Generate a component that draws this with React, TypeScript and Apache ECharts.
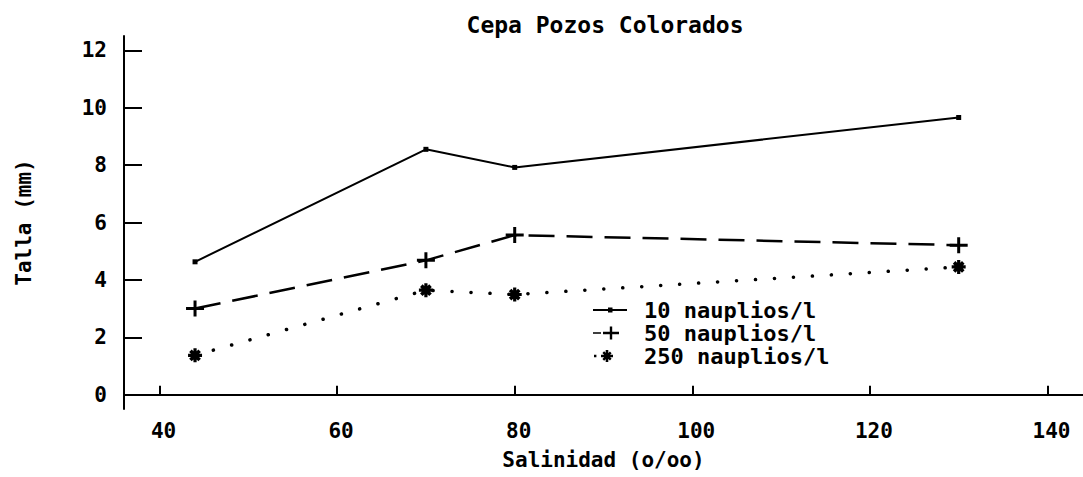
import React, { useEffect, useRef } from "react";
import * as echarts from "echarts";

const salinity = [44, 70, 80, 130];
const talla10 = [4.63, 8.55, 7.92, 9.66];
const talla50 = [3.0, 4.68, 5.56, 5.21];
const talla250 = [1.37, 3.64, 3.49, 4.45];
const xTicks = [40, 60, 80, 100, 120, 140];
const yTicks = [0, 2, 4, 6, 8, 10, 12];
const seriesNames = ["10 nauplios/l", "50 nauplios/l", "250 nauplios/l"];

const FONT = "DejaVu Sans Mono";

const plusPath =
  "path://M-1.5,-8 L1.5,-8 L1.5,-1.5 L9,-1.5 L9,1.5 L1.5,1.5 L1.5,8 L-1.5,8 L-1.5,1.5 L-9,1.5 L-9,-1.5 L-1.5,-1.5 Z";
const starPath =
  "path://M-7,-1.6 L7,-1.6 L7,1.6 L-7,1.6 Z M-1.6,-7 L1.6,-7 L1.6,7 L-1.6,7 Z " +
  "M-3.33,-5.87 L5.87,3.33 L3.33,5.87 L-5.87,-3.33 Z M-5.87,3.33 L3.33,-5.87 L5.87,-3.33 L-3.33,5.87 Z";

// legend icons drawn in a 34 x 14 box (tiny corner specks keep the box size)
const corners = " M0,0 L0.01,0 L0,0.01 Z M34,14 L33.99,14 L34,13.99 Z";
const icon10 = "path://M0,6 L34,6 L34,8 L0,8 Z M15,4.5 L19.5,4.5 L19.5,9.5 L15,9.5 Z" + corners;
const icon50 =
  "path://M0,6.2 L8,6.2 L8,7.8 L0,7.8 Z M10,5.8 L26,5.8 L26,8.2 L10,8.2 Z M16.8,0.5 L19.2,0.5 L19.2,13.5 L16.8,13.5 Z" +
  corners;
const icon250 =
  "path://M1,5.8 L3.4,5.8 L3.4,8.2 L1,8.2 Z " +
  "M8,5.7 L20,5.7 L20,8.3 L8,8.3 Z M12.7,1 L15.3,1 L15.3,13 L12.7,13 Z " +
  "M11.1,2.3 L18.6,9.8 L16.9,11.5 L9.4,4 Z M9.4,10 L16.9,2.5 L18.6,4.2 L11.1,11.7 Z" +
  corners;

export default function App() {
  const ref = useRef<HTMLDivElement>(null);
  useEffect(() => {
    if (!ref.current) return;
    const chart = echarts.init(ref.current, null, { renderer: "svg" });
    const pair = (ys: number[]) => salinity.map((x, i) => [x, ys[i]]);
    chart.setOption({
      animation: false,
      backgroundColor: "#ffffff",
      title: {
        text: "Cepa Pozos Colorados",
        left: 600,
        top: 8,
        textAlign: "center",
        textStyle: { fontFamily: FONT, fontWeight: "bold", fontSize: 23, color: "#000" },
      },
      legend: {
        orient: "vertical",
        left: 588,
        top: 294,
        itemWidth: 34,
        itemHeight: 14,
        itemGap: 1,
        selectedMode: false,
        data: [
          { name: seriesNames[0], icon: icon10 },
          { name: seriesNames[1], icon: icon50 },
          { name: seriesNames[2], icon: icon250 },
        ],
        textStyle: {
          fontFamily: FONT,
          fontWeight: "bold",
          fontSize: 22,
          lineHeight: 19,
          color: "#000",
          padding: [0, 0, 0, 12],
        },
      },
      grid: { left: 124, right: 0, top: 36, bottom: 68, containLabel: false },
      xAxis: {
        type: "value",
        min: 36,
        max: 144,
        name: "Salinidad (o/oo)",
        nameLocation: "middle",
        nameGap: 40,
        nameTextStyle: { fontFamily: FONT, fontWeight: "bold", fontSize: 21, color: "#000" },
        axisLine: { show: true, lineStyle: { color: "#000", width: 2 } },
        axisTick: { show: true, inside: true, length: 9, lineStyle: { color: "#000", width: 2 }, customValues: xTicks },
        axisLabel: {
          customValues: xTicks,
          margin: 11,
          fontFamily: FONT,
          fontWeight: "bold",
          fontSize: 21,
          color: "#000",
          padding: [0, 0, 0, 8],
        },
        splitLine: { show: false },
      },
      yAxis: {
        type: "value",
        min: -0.5,
        max: 12.5,
        name: "Talla (mm)",
        nameLocation: "middle",
        nameGap: 90,
        nameTextStyle: { fontFamily: FONT, fontWeight: "bold", fontSize: 21, color: "#000" },
        axisLine: { show: true, lineStyle: { color: "#000", width: 2 } },
        axisTick: { show: true, inside: true, length: 18, lineStyle: { color: "#000", width: 2 }, customValues: yTicks },
        axisLabel: {
          customValues: yTicks,
          margin: 17,
          fontFamily: FONT,
          fontWeight: "bold",
          fontSize: 21,
          color: "#000",
        },
        splitLine: { show: false },
      },
      series: [
        {
          name: seriesNames[0],
          type: "line",
          data: pair(talla10),
          symbol: "rect",
          symbolSize: 5,
          showAllSymbol: true,
          itemStyle: { color: "#000" },
          lineStyle: { color: "#000", width: 2 },
        },
        {
          name: seriesNames[1],
          type: "line",
          data: pair(talla50),
          symbol: plusPath,
          symbolSize: [18, 16],
          itemStyle: { color: "#000" },
          lineStyle: { color: "#000", width: 2.5, type: [26, 12] },
        },
        {
          name: seriesNames[2],
          type: "line",
          data: pair(talla250),
          symbol: starPath,
          symbolSize: 14,
          itemStyle: { color: "#000" },
          lineStyle: { color: "#000", width: 3.5, type: [0.1, 18.9], cap: "round" },
        },
      ],
    });
    return () => chart.dispose();
  }, []);
  return (
    <div
      ref={ref}
      style={{ position: "fixed", left: 0, top: 0, width: 1083, height: 477, background: "#fff" }}
    />
  );
}
